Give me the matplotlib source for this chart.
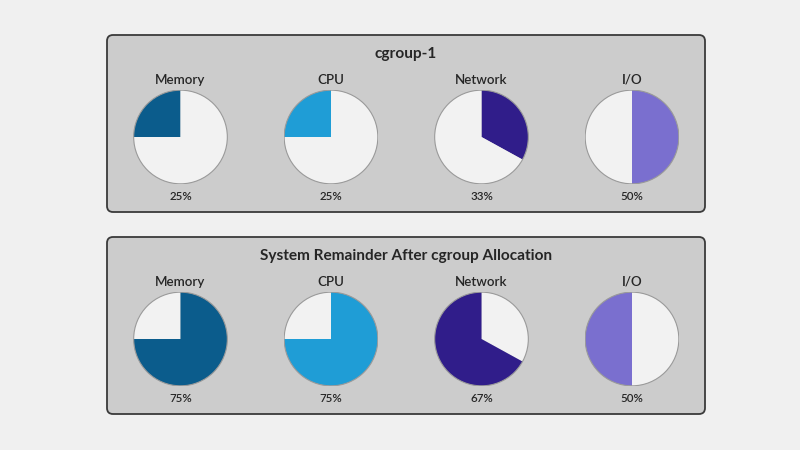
import matplotlib
matplotlib.use("Agg")
import matplotlib.pyplot as plt
from matplotlib.patches import FancyBboxPatch, Circle

plt.rcParams['font.family'] = ['Lato', 'DejaVu Sans']

RESOURCES = ["Memory", "CPU", "Network", "I/O"]
CGROUP_SHARE = [25, 25, 33, 50]
REMAINDER = [75, 75, 67, 50]
COLORS = ["#0b5c8c", "#1f9dd6", "#301d8a", "#7a6fcf"]
COUNTERCLOCK = [True, True, False, False]
PANEL_TITLES = ["cgroup-1", "System Remainder After cgroup Allocation"]

W, H = 800, 450
BG = "#f0f0f0"
PANEL_BG = "#cccccc"
EMPTY = "#f2f2f2"
TEXT = "#262626"

fig = plt.figure(figsize=(W / 100, H / 100), dpi=100)
fig.patch.set_facecolor(BG)

# background axes in pixel coords (y down)
bg = fig.add_axes([0, 0, 1, 1])
bg.set_xlim(0, W)
bg.set_ylim(H, 0)
bg.axis("off")

panel_tops = [35, 237]
panel_x0, panel_x1 = 107, 705
panel_h = 177
pie_x = [180.5, 331, 481.5, 632]
R = 47.3

for p, top in enumerate(panel_tops):
    box = FancyBboxPatch((panel_x0, top), panel_x1 - panel_x0, panel_h,
                         boxstyle="round,pad=0,rounding_size=6",
                         facecolor=PANEL_BG, edgecolor="#3a3a3a", linewidth=1.3)
    bg.add_patch(box)
    bg.text((panel_x0 + panel_x1) / 2, top + 19, PANEL_TITLES[p], ha="center", va="center",
            fontsize=11.1, fontweight="bold", color=TEXT)

    values = CGROUP_SHARE if p == 0 else REMAINDER
    cy = top + 102
    for i, name in enumerate(RESOURCES):
        bg.text(pie_x[i], cy - 57, name, ha="center", va="center",
                fontsize=9.6, fontweight="semibold", color=TEXT)
        bg.text(pie_x[i], cy + 59, f"{values[i]}%", ha="center", va="center",
                fontsize=8.3, fontweight="semibold", color=TEXT)

        ax = fig.add_axes([(pie_x[i] - R) / W, (H - cy - R) / H, 2 * R / W, 2 * R / H])
        sizes = [CGROUP_SHARE[i], REMAINDER[i]]
        if p == 0:
            cols = [COLORS[i], EMPTY]
        else:
            cols = [EMPTY, COLORS[i]]
        ax.pie(sizes, colors=cols, startangle=90, counterclock=COUNTERCLOCK[i],
               radius=1, wedgeprops={"linewidth": 0})
        ax.add_patch(Circle((0, 0), 1, facecolor="none", edgecolor="#9a9a9a", linewidth=0.8))
        ax.set_xlim(-1.01, 1.01)
        ax.set_ylim(-1.01, 1.01)
        ax.set_aspect("equal")
        ax.axis("off")

fig.savefig("out.png", dpi=100, facecolor=BG)
